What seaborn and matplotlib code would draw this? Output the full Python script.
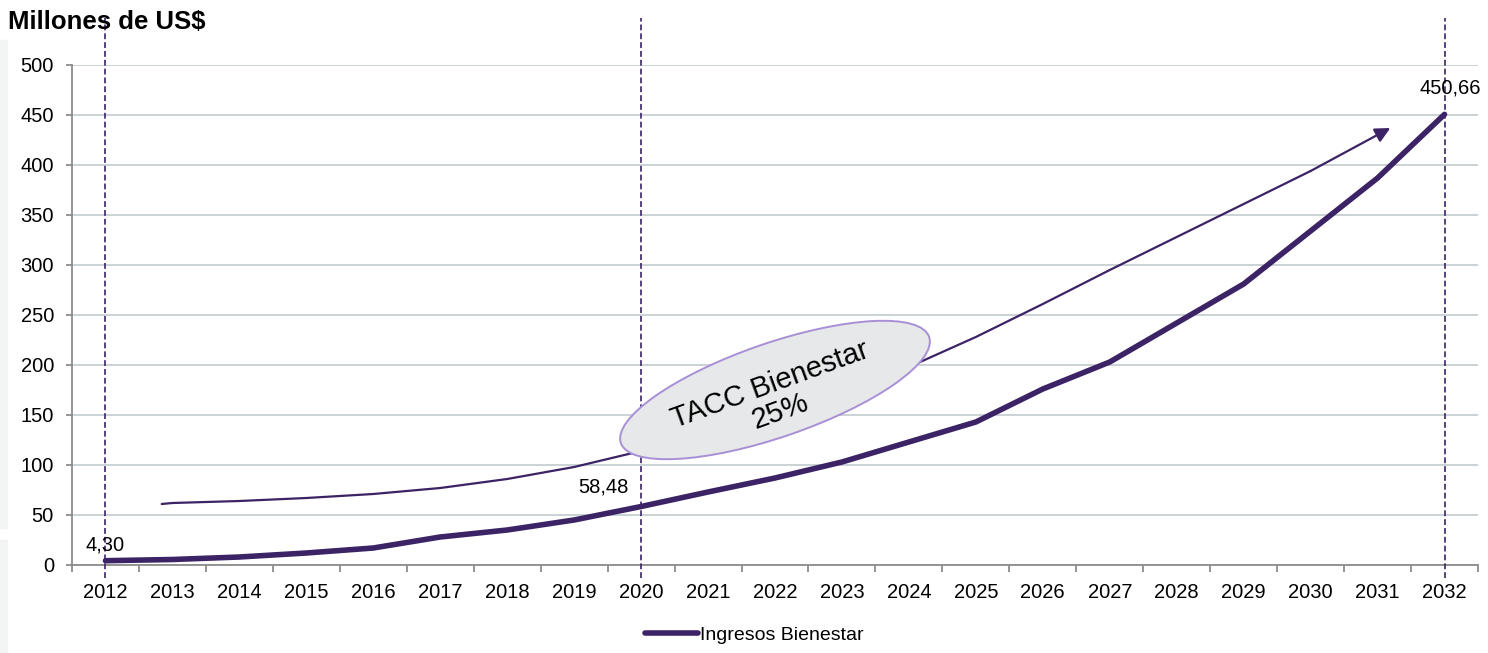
import numpy as np
import pandas as pd
import seaborn as sns
import matplotlib.pyplot as plt
from matplotlib.patches import Ellipse, Rectangle
from matplotlib.transforms import IdentityTransform

# valores
years = [str(y) for y in range(2012, 2033)]
ingresos = [4.30, 5.5, 8, 12, 17, 28, 35, 45, 58.48, 73, 87, 103, 123, 143,
            176, 203, 242, 281, 334, 387, 450.66]
labels_idx = [0, 8, 20]
labels_txt = ["4,30", "58,48", "450,66"]

# linea de tendencia (TACC), posiciones en indice de categoria
trend_x = [0.84, 1, 2, 3, 4, 5, 6, 7, 7.5, 8, 9, 10, 11, 12, 13, 14, 15, 16,
           17, 18, 19.19]
trend_y = [61, 62, 64, 67, 71, 77, 86, 98, 106, 114, 133, 154, 176, 198, 228,
           261, 295, 328, 361, 394, 437]

purple = "#3b2366"

sns.set_style("white")
plt.rcParams['font.family'] = ['Liberation Sans', 'DejaVu Sans']
plt.rcParams['text.color'] = 'black'
plt.rcParams['xtick.labelcolor'] = 'black'
plt.rcParams['ytick.labelcolor'] = 'black'

fig = plt.figure(figsize=(14.88, 6.53), dpi=100)
ax = fig.add_axes([72 / 1488, 1 - 565 / 653, 1406 / 1488, 500 / 653])

# franjas grises del borde izquierdo
fig.patches.append(Rectangle((0, 1 - 528 / 653), 7 / 1488, 488 / 653,
                             transform=fig.transFigure, color="#f3f4f4", zorder=0))
fig.patches.append(Rectangle((0, 0), 7 / 1488, 113 / 653,
                             transform=fig.transFigure, color="#f3f4f4", zorder=0))

pos = np.arange(len(years))
df = pd.DataFrame({"pos": pos, "ingresos": ingresos})
sns.lineplot(data=df, x="pos", y="ingresos", ax=ax, color=purple, linewidth=4,
             solid_capstyle="round", label="Ingresos Bienestar", zorder=4)

ax.set_xlim(-0.5, len(years) - 0.5)
ax.set_ylim(0, 500)
ax.set_yticks(range(0, 501, 50))
ax.set_xticks(pos, years)
ax.set_xticks(np.arange(-0.5, len(years), 1), minor=True)
ax.set_xlabel(None)
ax.set_ylabel(None)

ax.yaxis.grid(True, color="#c6cfd2", linewidth=1.3)
ax.set_axisbelow(True)
for s in ["top", "right"]:
    ax.spines[s].set_visible(False)
for s in ["left", "bottom"]:
    ax.spines[s].set_color("#8c8c8c")
    ax.spines[s].set_linewidth(1.3)

ax.tick_params(axis="x", which="major", length=0, pad=13, labelsize=14.5)
ax.tick_params(axis="x", which="minor", length=5, width=1.3, color="#8c8c8c",
               direction="out", bottom=True)
ax.tick_params(axis="y", length=4, width=1.3, color="#8c8c8c", pad=9,
               labelsize=14.5, left=True)

# lineas verticales punteadas
for i in labels_idx:
    ax.plot([i, i], [-13, 547], color=purple, linewidth=1.2,
            linestyle=(0, (3.5, 1.8)), clip_on=False, zorder=3)

# etiquetas de datos
offsets = [(0, 11), (-27, 14), (4, 19)]
for i, t, off in zip(labels_idx, labels_txt, offsets):
    ax.annotate(t, (i, ingresos[i]), xytext=off, textcoords="offset points",
                ha="center", va="center", fontsize=14.5, color="black", zorder=6)

# curva de tendencia con flecha
ax.plot(trend_x[:-1], trend_y[:-1], color=purple, linewidth=1.6, zorder=2)
ax.annotate("", xy=(trend_x[-1], trend_y[-1]), xytext=(trend_x[-2], trend_y[-2]),
            arrowprops=dict(arrowstyle="-|>,head_length=0.9,head_width=0.45",
                            color=purple, lw=1.6, shrinkA=0, shrinkB=0), zorder=2)

# elipse TACC
fig.canvas.draw()
cx, cy = ax.transData.transform((10, 175))
ell = Ellipse((cx, cy), 326, 94, angle=19, transform=IdentityTransform(),
              facecolor="#e6e8e9", edgecolor="#a88fd6", linewidth=1.4, zorder=5)
ax.add_artist(ell)
ax.text(10.0, 167, "TACC Bienestar\n25%", rotation=20, rotation_mode="anchor",
        ha="center", va="center", fontsize=21, color="black", zorder=6,
        linespacing=1.0)

fig.text(8 / 1488, 1 - 22 / 653, "Millones de US$", fontsize=18.5,
         fontweight="bold", ha="left", va="center", color="black")

ax.get_legend().remove()
fig.legend(*ax.get_legend_handles_labels(), loc="center", bbox_to_anchor=(0.507, 0.028),
           frameon=False, fontsize=14, handlelength=2.7, handletextpad=0.1)

fig.savefig("out.png", dpi=100)
